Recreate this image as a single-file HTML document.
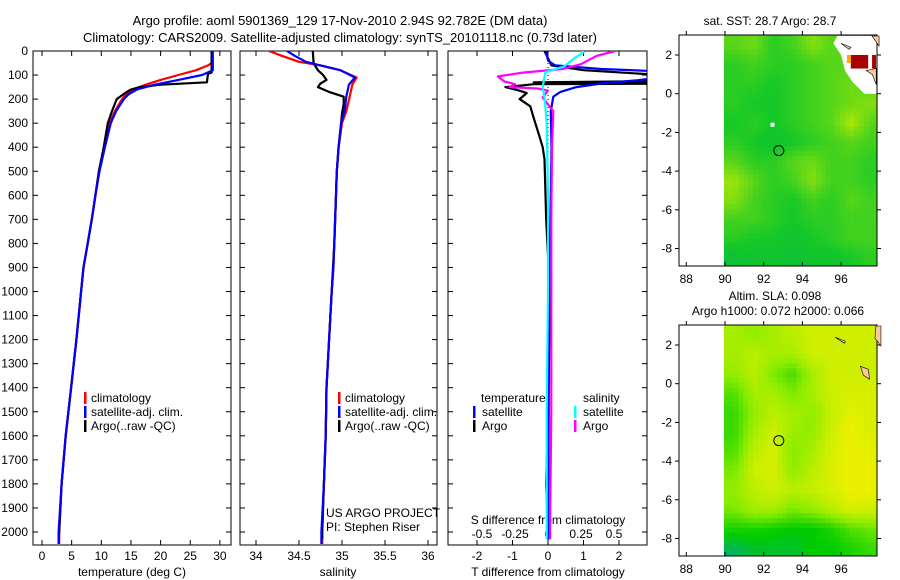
<!DOCTYPE html>
<html><head><meta charset="utf-8"><style>
html,body{margin:0;padding:0;background:#fff;}
svg{display:block;font-family:"Liberation Sans",sans-serif;}
</style></head><body>
<svg id="chart" width="900" height="580" viewBox="0 0 900 580" xmlns="http://www.w3.org/2000/svg">
<text x="340" y="25" font-size="13" text-anchor="middle">Argo profile: aoml 5901369_129 17-Nov-2010 2.94S 92.782E (DM data)</text>
<text x="340" y="42" font-size="13" text-anchor="middle">Climatology: CARS2009. Satellite-adjusted climatology: synTS_20101118.nc (0.73d later)</text>
<text x="770" y="25" font-size="12" text-anchor="middle">sat. SST: 28.7 Argo: 28.7</text>
<text x="775" y="300" font-size="12" text-anchor="middle">Altim. SLA: 0.098</text>
<text x="778" y="315" font-size="12" text-anchor="middle">Argo h1000: 0.072 h2000: 0.066</text>
<text transform="translate(893,460) rotate(-90)" font-size="12" text-anchor="middle">©IMOS 02-Aug-2017 23:43:04</text>
<g id="g"></g>
</svg>
<script>
// ---------- data ----------
const tempDepthArgo = [0,90,95,130,140,150,160,175,200,250,300,400,500,600,700,800,900,1000,1200,1400,1600,1800,2000,2030];
const tempArgo      = [28.6,28.6,28.0,27.8,20,16.5,15,14,12.6,11.8,11.1,10.4,9.6,9.0,8.4,7.7,7.0,6.6,5.8,4.9,4.0,3.3,2.9,2.8];
const tempDepthClim = [0,50,60,80,100,120,140,160,180,200,250,300,400,500,600,700,800,900,1000,1200,1400,1600,1800,2000,2050];
const tempClim      = [28.6,28.6,28.0,26,23,20,17.5,15.3,14.2,13.5,12.3,11.4,10.5,9.6,9.0,8.4,7.7,7.0,6.6,5.8,4.9,4.0,3.3,2.9,2.9];
const tempSat       = [28.8,28.8,28.8,28.8,27,23,19,16,14.6,13.8,12.5,11.6,10.6,9.7,9.0,8.4,7.7,7.0,6.6,5.8,4.9,4.0,3.3,2.8,2.8];
const salDepthClim  = [0,20,45,60,80,110,140,190,250,300,400,500,600,800,900,1000,1200,1400,1600,1800,2000,2050];
const salClim       = [34.15,34.3,34.5,34.75,34.98,35.17,35.12,35.09,35.05,35.0,34.96,34.94,34.93,34.91,34.9,34.88,34.85,34.82,34.81,34.79,34.77,34.77];
const salSat        = [34.36,34.45,34.58,34.75,34.98,35.15,35.08,35.05,35.03,34.99,34.96,34.94,34.93,34.91,34.9,34.88,34.85,34.82,34.81,34.79,34.76,34.76];
const salDepthArgo  = [0,50,80,100,120,135,150,170,190,220,260,300,400,500,600,800,1000,1200,1400,1600,1800,2000,2030];
const salArgo       = [34.66,34.67,34.72,34.78,34.82,34.75,34.72,34.85,35.02,35.02,35.0,34.99,34.96,34.94,34.93,34.91,34.88,34.85,34.82,34.81,34.79,34.77,34.77];
const dTDepthSat    = [0,40,60,75,85,110,122,135,150,170,190,250,400,600,1000,1500,2000,2030];
const dTSat         = [-0.05,0,0.2,1.5,3.2,3.2,2.5,1.5,0.8,0.35,0.15,0.08,0.1,0.08,0.03,0.02,0,0];
const dTDepthArgo   = [0,60,80,100,125,130,132,136,138,150,165,175,200,230,280,350,400,450,700,1000,1100,1500,1800,2000,2030];
const dTArgo        = [-0.1,0.1,1,3.2,3.2,-0.4,3.2,3.2,-0.4,-1.2,-0.8,-0.6,-0.8,-0.5,-0.4,-0.25,-0.15,-0.1,-0.05,0.05,0.05,0,-0.05,0,0];
const dSDepthArgo   = [0,20,55,75,90,106,127,138,150,156,165,193,222,250,400,700,1000,1500,2000,2030];
const dSArgo        = [0.51,0.37,0.25,0.11,-0.19,-0.38,-0.33,-0.25,-0.29,-0.08,0,-0.04,0,0.04,0.03,0.025,0.025,0.025,0.015,0.015];
const dSDepthSat    = [0,5,30,65,88,150,200,300,600,1000,1500,2000,2030];
const dSSat         = [0.25,0.27,0.2,0.12,-0.02,-0.04,-0.025,-0.01,0,0,-0.01,-0.01,-0.01];
const depthTicks = [0,100,200,300,400,500,600,700,800,900,1000,1100,1200,1300,1400,1500,1600,1700,1800,1900,2000];
const tempTicks = [0,5,10,15,20,25,30];
const salTicks = [34,34.5,35,35.5,36];
const salTickLabels = ["34","34.5","35","35.5","36"];
const dTTicks = [-2,-1,0,1,2];
const dSTicks = [-0.5,-0.25,0,0.25,0.5];
const dSTickLabels = ["-0.5","-0.25","0","0.25","0.5"];
const lonTicks = [88,90,92,94,96];
const latTicks = [2,0,-2,-4,-6,-8];
// map grids: rows lat 2.5 .. -8.5, cols lon 90.5 .. 97.5
const slaGrid = [
 [.65,.55,.65,.75,.85,.85,.85,.85],
 [.65,.75,.65,.65,.85,.85,.85,.85],
 [.55,.75,.45,.25,.65,.85,.85,.85],
 [.3,.65,.65,.45,.65,.85,.9,.9],
 [.2,.55,.75,.65,.55,.8,.95,.9],
 [.2,.65,.85,.6,.55,.85,1,.9],
 [.3,.75,.9,.5,.65,.9,1,.95],
 [.45,.85,.9,.55,.75,.9,1,1],
 [.55,.75,.85,.75,.8,.9,1,1],
 [.45,.65,.65,.45,.55,.75,.9,.85],
 [.1,.1,.05,0,0,.1,.3,.4],
 [-.2,-.1,-.1,-.1,0,0,.1,.2]];
const sstGrid = [
 [.55,.6,.45,.5,.65,.55,.55,.5],
 [.45,.5,.45,.45,.5,.55,.55,.5],
 [.45,.45,.4,.45,.5,.55,.6,.55],
 [.45,.4,.4,.45,.5,.55,.6,.65],
 [.4,.45,.4,.45,.5,.55,.75,.55],
 [.45,.4,.35,.4,.45,.5,.55,.5],
 [.55,.45,.45,.55,.6,.5,.5,.45],
 [.7,.55,.45,.5,.65,.5,.5,.45],
 [.65,.5,.45,.4,.5,.45,.55,.5],
 [.5,.5,.45,.4,.45,.45,.5,.5],
 [.45,.4,.4,.35,.4,.45,.5,.5],
 [.3,.35,.35,.3,.35,.35,.4,.45]];
const argoLon = 92.782, argoLat = -2.94;

// ---------- helpers ----------
const NS="http://www.w3.org/2000/svg";
const G=document.getElementById('g');
function mk(tag,attrs,parent){const e=document.createElementNS(NS,tag);for(const k in attrs)e.setAttribute(k,attrs[k]);(parent||G).appendChild(e);return e;}
const yD = d => 51 + d*0.2405;
const PT=51, PB=545;
const xT = t => 42 + t*5.93;
const xS = s => 256 + (s-34)*86;
const xDT = v => 548 + v*35.5;
const xDS = v => 548 + v*132;

function panel(name,x0,x1,clipId){
  const r=mk('rect',{x:x0,y:PT,width:x1-x0,height:PB-PT,fill:'none',stroke:'#000','stroke-width':1});
  
  
  const cp=mk('clipPath',{id:clipId});
  mk('rect',{x:x0,y:PT,width:x1-x0,height:PB-PT},cp);
}
function line(name,depths,vals,fx,color,clip,w){
  let d='';
  depths.forEach((dp,i)=>{d+=(i?'L':'M')+fx(vals[i]).toFixed(1)+' '+yD(dp).toFixed(1);});
  const p=mk('path',{d:d,fill:'none',stroke:color,'stroke-width':w||2.2,'clip-path':'url(#'+clip+')','stroke-linejoin':'round'});
  
  
}
function txt(name,x,y,s,opt){
  const t=mk('text',Object.assign({x:x,y:y,'font-size':12},opt||{}));
  t.textContent=s;
  
  
  return t;
}
function xTicks(prefix,ticks,labels,fx,x0,x1,labelY){
  ticks.forEach((v,i)=>{
    const x=fx(v);
    mk('line',{x1:x,y1:PB,x2:x,y2:PB-5,stroke:'#000'});
    mk('line',{x1:x,y1:PT,x2:x,y2:PT+5,stroke:'#000'});
    if(labelY) txt(prefix+'-tick-label',x,labelY,labels[i],{'text-anchor':'middle'});
  });
}
function yTicks(x0,x1,labels){
  depthTicks.forEach(d=>{
    const y=yD(d);
    mk('line',{x1:x0,y1:y,x2:x0+5,y2:y,stroke:'#000'});
    mk('line',{x1:x1,y1:y,x2:x1-5,y2:y,stroke:'#000'});
    if(labels) txt('depth-tick-label',28,y+4,String(d),{'text-anchor':'end'});
  });
}
function legendBar(name,x,y,color){
  const r=mk('rect',{x:x,y:y-10,width:2.5,height:12,fill:color});
  
  
}

// ---------- panel 1: temperature ----------
panel('temperature-panel',33,231,'c1');
yTicks(33,231,true);
xTicks('temperature',tempTicks,tempTicks.map(String),xT,33,231,560);
txt('temperature-axis-title',132,576,'temperature (deg C)',{'text-anchor':'middle'});
line('temperature-climatology',tempDepthClim,tempClim,xT,'#f00','c1');
line('temperature-argo',tempDepthArgo,tempArgo,xT,'#000','c1');
line('temperature-satellite',tempDepthClim,tempSat,xT,'#00f','c1');
legendBar('legend-climatology-swatch',84,402,'#f00');txt('legend-climatology',91,402,'climatology');
legendBar('legend-satellite-swatch',84,416,'#00f');txt('legend-satellite',91,416,'satellite-adj. clim.');
legendBar('legend-argo-swatch',84,430,'#000');txt('legend-argo',91,430,'Argo(..raw -QC)');

// ---------- panel 2: salinity ----------
panel('salinity-panel',240,437,'c2');
yTicks(240,437,false);
xTicks('salinity',salTicks,salTickLabels,xS,240,437,560);
txt('salinity-axis-title',338,576,'salinity',{'text-anchor':'middle'});
line('salinity-climatology',salDepthClim,salClim,xS,'#f00','c2');
line('salinity-argo',salDepthArgo,salArgo,xS,'#000','c2');
line('salinity-satellite',salDepthClim,salSat,xS,'#00f','c2');
legendBar('legend2-climatology-swatch',338,402,'#f00');txt('legend2-climatology',345,402,'climatology');
legendBar('legend2-satellite-swatch',338,416,'#00f');txt('legend2-satellite',345,416,'satellite-adj. clim.');
legendBar('legend2-argo-swatch',338,430,'#000');txt('legend2-argo',345,430,'Argo(..raw -QC)');
txt('project-label',326,517,'US ARGO PROJECT');
txt('pi-label',326,531,'PI: Stephen Riser');

// ---------- panel 3: differences ----------
panel('difference-panel',448,647,'c3');
yTicks(448,647,false);
xTicks('t-diff',dTTicks,dTTicks.map(String),xDT,448,647,560);
txt('t-diff-axis-title',548,576,'T difference from climatology',{'text-anchor':'middle'});
txt('s-diff-axis-title',548,524,'S difference from climatology',{'text-anchor':'middle'});
dSTicks.forEach((v,i)=>txt('s-diff-tick-label',xDS(v),538,dSTickLabels[i],{'text-anchor':'middle'}));
mk('line',{x1:548,y1:PT,x2:548,y2:PB,stroke:'#000','stroke-dasharray':'1,3'});
line('t-diff-argo',dTDepthArgo,dTArgo,xDT,'#000','c3');
line('t-diff-satellite',dTDepthSat,dTSat,xDT,'#00f','c3');
line('s-diff-argo',dSDepthArgo,dSArgo,xDS,'#f0f','c3');
line('s-diff-satellite',dSDepthSat,dSSat,xDS,'#0ff','c3');
txt('legend3-temperature-header',481,402,'temperature');
txt('legend3-salinity-header',583,402,'salinity');
legendBar('legend3-t-sat-swatch',473,416,'#00f');txt('legend3-t-sat',482,416,'satellite');
legendBar('legend3-t-argo-swatch',473,430,'#000');txt('legend3-t-argo',482,430,'Argo');
legendBar('legend3-s-sat-swatch',574,416,'#0ff');txt('legend3-s-sat',583,416,'satellite');
legendBar('legend3-s-argo-swatch',574,430,'#f0f');txt('legend3-s-argo',583,430,'Argo');

// ---------- maps ----------
const MX0=679, MX1=877;
const lonX = l => 725 + (l-90)*19.35;
function lerp(a,b,t){return a+(b-a)*t;}
function mix(c1,c2,t){return 'rgb('+c1.map((v,i)=>Math.round(lerp(v,c2[i],t))).join(',')+')';}
function slaColor(v){
  if(v<0) return mix([0,204,0],[0,176,110],Math.min(1,-v*4));
  if(v<0.5) return mix([0,204,0],[136,236,0],v/0.5);
  return mix([136,236,0],[236,240,0],(v-0.5)/0.5);
}
function sstColor(v){
  if(v<0.4) return mix([0,170,90],[20,200,40],v/0.4);
  return mix([20,200,40],[200,236,0],(v-0.4)/0.4);
}
function sample(grid,lon,lat){
  let c=(lon-90.5), r=(2.5-lat);
  c=Math.max(0,Math.min(7,c)); r=Math.max(0,Math.min(11,r));
  const c0=Math.min(6,Math.floor(c)), r0=Math.min(10,Math.floor(r));
  const fc=c-c0, fr=r-r0;
  const a=lerp(grid[r0][c0],grid[r0][c0+1],fc), b=lerp(grid[r0+1][c0],grid[r0+1][c0+1],fc);
  return lerp(a,b,fr);
}
function map(name,top,lat2y,grid,colorFn,step){
  const latY = l => lat2y + (2-l)*19.35;
  const frameBottom = top + 231;
  const cells=mk('g',{});
  
  
  for(let lat=3.05; lat>-8.9; lat-=step){
    for(let lon=89.95; lon<98; lon+=step){
      const v=sample(grid,lon+step/2,lat-step/2);
      const x=lonX(lon), y=latY(lat);
      mk('rect',{x:x.toFixed(1),y:Math.max(top,y).toFixed(1),width:(step*19.35+0.6).toFixed(1),height:(step*19.35+0.6).toFixed(1),fill:colorFn(v)},cells);
    }
  }
  mk('rect',{x:MX1+0.5,y:top-2,width:20,height:240,fill:'#fff'});
  mk('rect',{x:MX0,y:frameBottom,width:MX1-MX0+1,height:10,fill:'#fff'});
  const f=mk('rect',{x:MX0,y:top,width:MX1-MX0,height:frameBottom-top,fill:'none',stroke:'#000'});
  
  
  lonTicks.forEach(l=>{const x=lonX(l);
    mk('line',{x1:x,y1:frameBottom,x2:x,y2:frameBottom-4,stroke:'#000'});
    mk('line',{x1:x,y1:top,x2:x,y2:top-4,stroke:'#000'});
    txt(name+'-lon-label',x,frameBottom+17,String(l),{'text-anchor':'middle'});});
  latTicks.forEach(l=>{const y=latY(l);
    mk('line',{x1:MX0,y1:y,x2:MX0-4,y2:y,stroke:'#000'});
    mk('line',{x1:MX1,y1:y,x2:MX1+4,y2:y,stroke:'#000'});
    txt(name+'-lat-label',MX0-7,y+4,String(l),{'text-anchor':'end'});});
  const c=mk('circle',{cx:lonX(argoLon),cy:latY(argoLat),r:5,fill:'none',stroke:'#000','stroke-width':1});
  
  
  return latY;
}
const sstLatY = map('sst',35,55,sstGrid,sstColor,0.25);
mk('polygon',{points:`${lonX(95.8)},36 ${MX1-0.5},36 ${MX1-0.5},${sstLatY(0.0)} ${lonX(97.2)},${sstLatY(0.0)} ${lonX(96.6)},${sstLatY(0.6)} ${lonX(96.2)},${sstLatY(1.2)} ${lonX(96.0)},${sstLatY(2.0)} ${lonX(95.6)},${sstLatY(2.6)}`,fill:'#fff'});
mk('rect',{x:lonX(96.5),y:sstLatY(2.0),width:19.35*0.9,height:19.35*0.7,fill:'#aa0000'});
mk('rect',{x:lonX(96.3),y:sstLatY(2.0),width:4,height:8,fill:'#ffaa00'});
mk('rect',{x:lonX(97.6),y:sstLatY(2.0),width:4,height:19.35*0.7,fill:'#aa0000'});
mk('path',{d:`M${lonX(97.3)} ${sstLatY(1.2)} l6 4 l4 10 l0 -16 z`,fill:'#f8c8a0',stroke:'#000','stroke-width':0.6});
mk('path',{d:`M${lonX(97.6)} 36 l7 0 l0 10 z`,fill:'#f8c8a0',stroke:'#000','stroke-width':0.6});
mk('path',{d:`M${lonX(96.0)} ${sstLatY(2.6)} l10 4 l-2 2 z`,fill:'#f8c8a0',stroke:'#000','stroke-width':0.6});
mk('rect',{x:lonX(92.35),y:sstLatY(-1.5),width:4,height:4,fill:'#fff'});
const slaLatY = map('sla',325,345,slaGrid,slaColor,0.25);
mk('path',{d:`M${lonX(97.8)} 326 l5 0 l0 20 l-6 -8 z`,fill:'#f8c8a0',stroke:'#000','stroke-width':0.6});
mk('path',{d:`M${lonX(97.0)} ${slaLatY(0.9)} l8 3 l1 10 l-6 -4 z`,fill:'#f8c8a0',stroke:'#000','stroke-width':0.6});
mk('path',{d:`M${lonX(95.7)} ${slaLatY(2.4)} l10 4 l-1 2 z`,fill:'#f8c8a0',stroke:'#000','stroke-width':0.6});
</script>
</body></html>
